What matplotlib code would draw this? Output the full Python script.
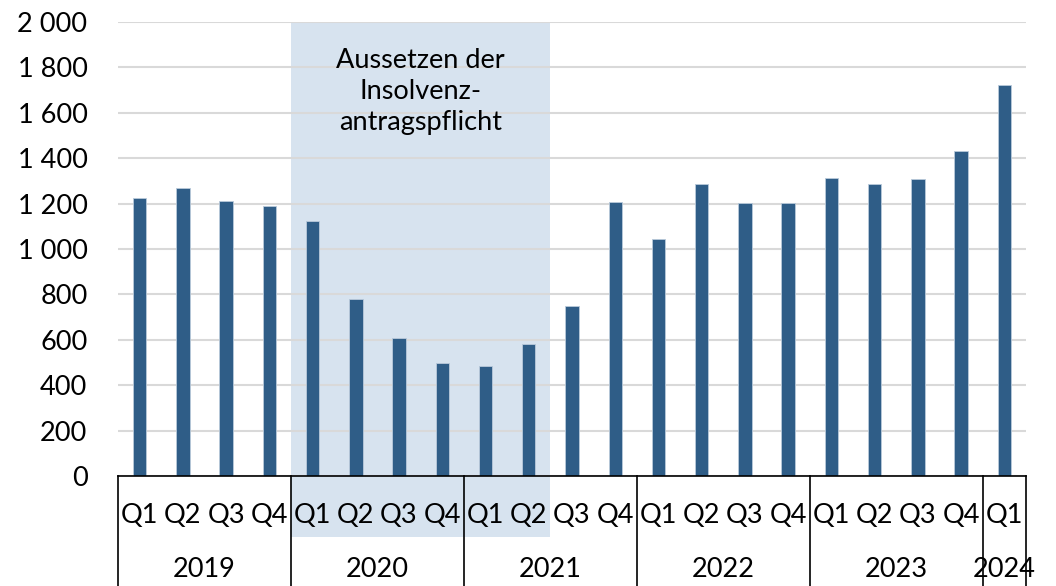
import matplotlib.pyplot as plt
from matplotlib.patches import Rectangle
import matplotlib.transforms as mtransforms

# Values
years = ['2019', '2020', '2021', '2022', '2023', '2024']
quarters_per_year = [4, 4, 4, 4, 4, 1]
quarter_labels = ['Q1', 'Q2', 'Q3', 'Q4'] * 5 + ['Q1']
values = [1225, 1268, 1211, 1190,
          1123, 780, 608, 498,
          485, 581, 749, 1207,
          1044, 1286, 1203, 1201,
          1314, 1286, 1307, 1432,
          1721]
yticks = [0, 200, 400, 600, 800, 1000, 1200, 1400, 1600, 1800, 2000]
shade_start, shade_end = 4, 9   # 2020 Q1 .. 2021 Q2
note = 'Aussetzen der\nInsolvenz-\nantragspflicht'

BAR = '#2f5d87'
SHADE = '#d7e3ef'
GRID = '#d9d9d9'

plt.rcParams['font.family'] = ['Lato', 'DejaVu Sans']
plt.rcParams['font.size'] = 19.5

fig = plt.figure(figsize=(10.56, 5.86), dpi=100)
ax = fig.add_axes([118 / 1056, 110 / 586, 908 / 1056, 454 / 586])

x = list(range(len(values)))
ax.axvspan(shade_start - 0.5, shade_end + 0.5, color=SHADE, zorder=0, lw=0)
ax.bar(x, values, width=0.31, color=BAR, edgecolor='#b9cadb', linewidth=0.6, zorder=3)

ax.set_xlim(-0.5, len(values) - 0.5)
ax.set_ylim(0, 2000)
ax.set_yticks(yticks)
ax.set_yticklabels([f'{v:,}'.replace(',', ' ') for v in yticks])
ax.tick_params(axis='y', length=0, pad=22)
ax.tick_params(axis='x', length=0, labelbottom=False)
ax.yaxis.grid(True, color=GRID, linewidth=1.5, zorder=1)
ax.set_axisbelow(True)
for s in ['left', 'right', 'top']:
    ax.spines[s].set_visible(False)
ax.spines['bottom'].set_color('black')
ax.spines['bottom'].set_linewidth(1.2)
ax.spines['bottom'].set_zorder(4)

trans = mtransforms.blended_transform_factory(ax.transData, ax.transAxes)

# shaded part of the quarter label row
ax.add_patch(Rectangle((shade_start - 0.5, -0.134), shade_end - shade_start + 1, 0.134,
                       transform=trans, color=SHADE, lw=0, clip_on=False, zorder=0))

for i, q in enumerate(quarter_labels):
    ax.text(i, -0.086, q, transform=trans, ha='center', va='center', clip_on=False)

# year groups and separators
pos = -0.5
bounds = [pos]
for yr, n in zip(years, quarters_per_year):
    ax.text(pos + n / 2, -0.207, yr, transform=trans, ha='center', va='center', clip_on=False)
    pos += n
    bounds.append(pos)
for b in bounds:
    ax.plot([b, b], [0, -0.26], transform=trans, color='black', lw=1.2, clip_on=False)

ax.text((shade_start + shade_end) / 2, 1692, note, ha='center', va='center',
        linespacing=1.3, zorder=5)

fig.savefig('out.png', dpi=100)
